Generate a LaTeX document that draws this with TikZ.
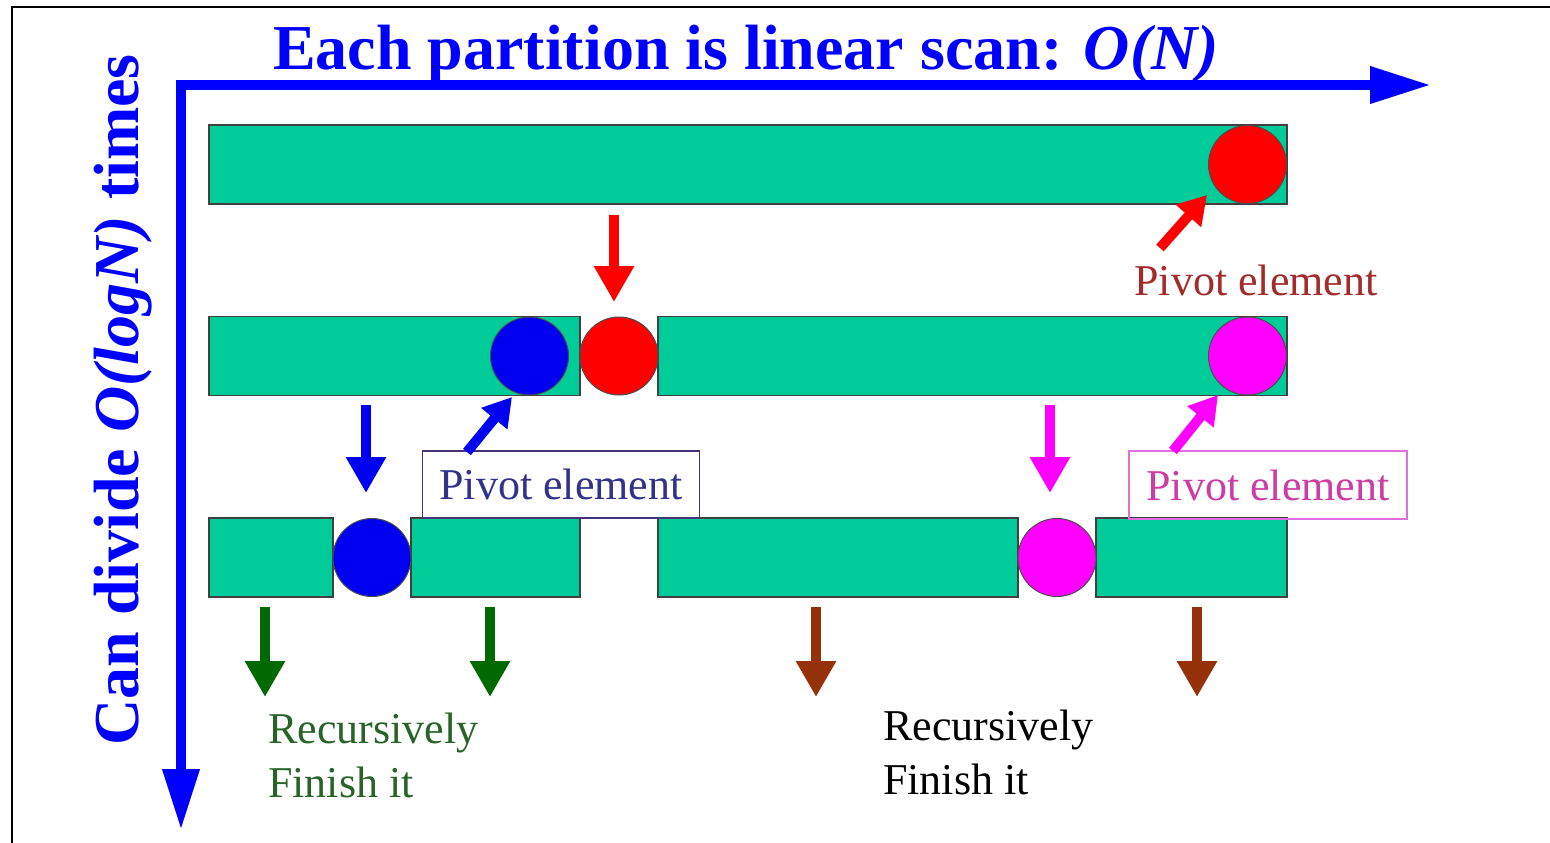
\documentclass[tikz,border=0pt]{standalone}
\usepackage{fontspec}
\setmainfont{Liberation Serif}
\usetikzlibrary{arrows.meta}

\definecolor{bargreen}{RGB}{0,204,153}
\definecolor{axisblue}{RGB}{0,0,255}
\definecolor{pivred}{RGB}{255,0,0}
\definecolor{pivblue}{RGB}{0,0,240}
\definecolor{pivmag}{RGB}{255,0,255}
\definecolor{redtext}{RGB}{165,42,42}
\definecolor{bluetext}{RGB}{50,50,140}
\definecolor{blueframe}{RGB}{70,50,120}
\definecolor{magtext}{RGB}{205,60,165}
\definecolor{magframe}{RGB}{225,110,225}
\definecolor{donegreen}{RGB}{0,105,0}
\definecolor{greentext}{RGB}{40,100,40}
\definecolor{donebrown}{RGB}{150,50,10}

\tikzset{
  bar/.style={draw=black!75,fill=bargreen,line width=1.2pt,inner sep=0pt,minimum height=79pt},
  ball/.style={circle,draw=black!70,line width=1pt,inner sep=0pt,minimum size=78pt},
  axis/.style={line width=10pt,axisblue,{Triangle[length=61pt,width=35pt]}-{Triangle[length=61pt,width=35pt]}},
  downarrow/.style={line width=10pt,-{Triangle[length=36pt,width=38pt]}},
  diagarrow/.style={line width=10pt,-{Triangle[length=28pt,width=32pt]}},
  bigfont/.style={font=\fontsize{64}{70}\selectfont\bfseries},
  smallfont/.style={font=\fontsize{44}{54}\selectfont}
}

\begin{document}
\begin{tikzpicture}[x=1pt,y=-1pt]
  \useasboundingbox (0,0) rectangle (1550,843);
  \draw[line width=2pt] (1550,7) -- (12,7) -- (12,843);

  % axes
  \coordinate (xend) at (1431,85);
  \coordinate (corner) at (181,85);
  \coordinate (yend) at (181,830);
  \draw[axis,line join=miter] (xend) -- (corner) -- (yend);
  \node[bigfont,axisblue,anchor=base] (title) at (746,70) {Each partition is linear scan: \textit{O(N)}};
  \node[bigfont,axisblue,anchor=base,rotate=90] (depth) at (138,400) {Can divide \textit{O(logN)} times};

  % bars
  \begin{scope}[every node/.style={bar}]
    \node[minimum width=1078pt] (r1)  at (748,164.5) {};
    \node[minimum width=371pt]  (r2a) at (394.5,356) {};
    \node[minimum width=629pt]  (r2b) at (972.5,356) {};
    \node[minimum width=124pt]  (r3a) at (271,557.5) {};
    \node[minimum width=169pt]  (r3b) at (495.5,557.5) {};
    \node[minimum width=360pt]  (r3c) at (838,557.5) {};
    \node[minimum width=191pt]  (r3d) at (1191.5,557.5) {};
  \end{scope}

  % pivots
  \begin{scope}[every node/.style={ball}]
    \node[fill=pivred]  (p1)  at (1247.5,164.5) {};
    \node[fill=pivblue] (p2a) at (529.5,356) {};
    \node[fill=pivred]  (p2b) at (619,356) {};
    \node[fill=pivmag]  (p2c) at (1247.5,356) {};
    \node[fill=pivblue] (p3a) at (372,557.5) {};
    \node[fill=pivmag]  (p3b) at (1057,557.5) {};
  \end{scope}

  % labels
  \node[smallfont,redtext,inner sep=0pt] (lred) at (1256,280) {Pivot element};
  \node[smallfont,bluetext,draw=blueframe,line width=1.2pt,minimum width=277pt,minimum height=67pt,inner sep=0pt] (lblue) at (561,484.5) {Pivot element};
  \node[smallfont,magtext,draw=magframe,line width=1.2pt,minimum width=278pt,minimum height=68pt,inner sep=0pt] (lmag) at (1268,485) {Pivot element};
  \node[smallfont,greentext,align=left,anchor=north west,inner sep=0pt] (lgreen) at (268,713) {Recursively\\Finish it};
  \node[smallfont,black,align=left,anchor=north west,inner sep=0pt] (lblack) at (883,710) {Recursively\\Finish it};

  % arrow ends
  \coordinate (rd1) at (614,215);   \coordinate (rd2) at (614,302);
  \coordinate (rg1) at (1160,248);  \coordinate (rg2) at (1207,195);
  \coordinate (bd1) at (366,405);   \coordinate (bd2) at (366,493);
  \coordinate (bg1) at (467,452);   \coordinate (bg2) at (512,397);
  \coordinate (md1) at (1050,405);  \coordinate (md2) at (1050,493);
  \coordinate (mg1) at (1173,451);  \coordinate (mg2) at (1218,395);
  \coordinate (g1a) at (265,607);   \coordinate (g1b) at (265,697);
  \coordinate (g2a) at (490,607);   \coordinate (g2b) at (490,697);
  \coordinate (b1a) at (816,607);   \coordinate (b1b) at (816,697);
  \coordinate (b2a) at (1197,607);  \coordinate (b2b) at (1197,697);

  \draw[downarrow,pivred] (rd1) -- (rd2);
  \draw[diagarrow,pivred] (rg1) -- (rg2);
  \draw[downarrow,pivblue] (bd1) -- (bd2);
  \draw[diagarrow,pivblue] (bg1) -- (bg2);
  \draw[downarrow,pivmag] (md1) -- (md2);
  \draw[diagarrow,pivmag] (mg1) -- (mg2);
  \draw[downarrow,donegreen] (g1a) -- (g1b);
  \draw[downarrow,donegreen] (g2a) -- (g2b);
  \draw[downarrow,donebrown] (b1a) -- (b1b);
  \draw[downarrow,donebrown] (b2a) -- (b2b);
\end{tikzpicture}
\end{document}
